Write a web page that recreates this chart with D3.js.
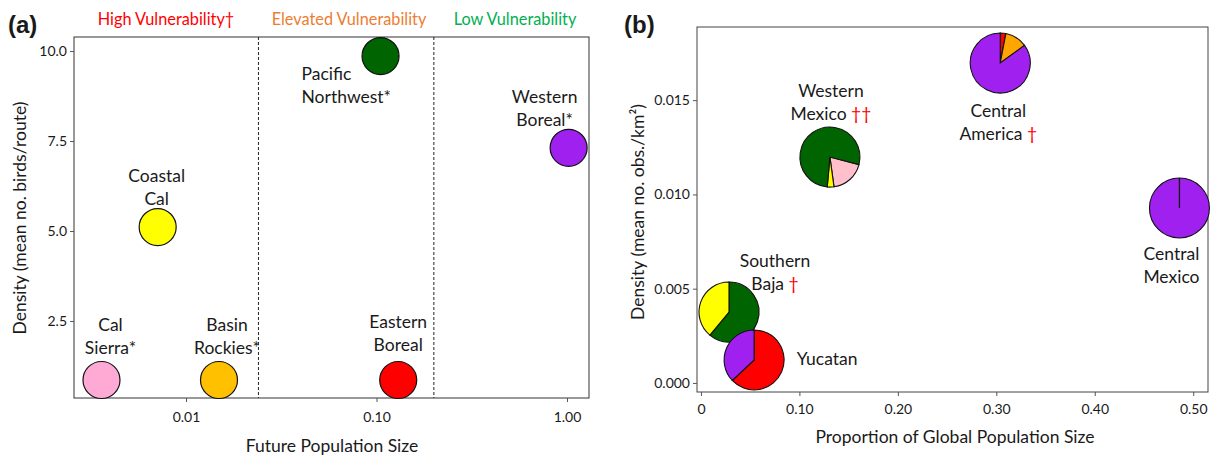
<!DOCTYPE html>
<html>
<head>
<meta charset="utf-8">
<script src="https://cdn.jsdelivr.net/npm/d3@7/dist/d3.min.js"></script>
<style>
  body { margin: 0; background: #fff; }
  text { font-family: Lato, "Open Sans", sans-serif; fill: #1a1a1a; }
</style>
</head>
<body>
<svg id="chart" width="1213" height="457"></svg>
<script>
// ---- panel (a) data ----
const regionsA = ["Cal Sierra*", "Coastal Cal", "Basin Rockies*", "Pacific Northwest*", "Eastern Boreal", "Western Boreal*"];
const futurePop = [0.0036, 0.0071, 0.0149, 0.105, 0.130, 1.02];
const densityA = [0.86, 5.11, 0.86, 9.86, 0.86, 7.31];
const colorsA = ["#ffaad4", "#ffff00", "#ffc000", "#006400", "#ff0000", "#a020f0"];
const xTicksA = [0.01, 0.1, 1];
const yTicksA = [2.5, 5.0, 7.5, 10.0];
const thresholds = [0.024, 0.2];
const zones = ["High Vulnerability\u2020", "Elevated Vulnerability", "Low Vulnerability"];

// ---- panel (b) data ----
const regionsB = ["Central America", "Western Mexico", "Southern Baja", "Yucatan", "Central Mexico"];
const daggers = ["\u2020", "\u2020\u2020", "\u2020", "", ""];
const propGlobal = [0.304, 0.131, 0.0285, 0.054, 0.486];
const densityB = [0.01697, 0.01198, 0.00376, 0.00122, 0.00928];
// slice shares, listed clockwise
const slices = [
  [{c: "red", v: 3}, {c: "orange", v: 12}, {c: "purple", v: 85}],
  [{c: "pink", v: 18.8}, {c: "yellow", v: 3.6}, {c: "green", v: 77.6}],
  [{c: "green", v: 61}, {c: "yellow", v: 39}],
  [{c: "red", v: 63}, {c: "purple", v: 37}],
  [{c: "purple", v: 100}]
];
const xTicksB = [0, 0.1, 0.2, 0.3, 0.4, 0.5];
const yTicksB = [0, 0.005, 0.010, 0.015];

const pieColor = {red: "#ff0000", orange: "#ffa500", purple: "#a020f0", pink: "#ffc0cb", yellow: "#ffff00", green: "#006400"};

const svg = d3.select("#chart");
const FS = 17.5, TS = 14;

// ================= PANEL A =================
const xa = d3.scaleLog().domain([Math.pow(10, -2.588), Math.pow(10, 0.1155)]).range([74, 589]);
const ya = d3.scaleLinear().domain([0.36, 10.39]).range([398, 37]);

const ga = svg.append("g");
ga.append("rect").attr("x", 74).attr("y", 37).attr("width", 515).attr("height", 361)
  .attr("fill", "none").attr("stroke", "#333").attr("stroke-width", 1);

ga.append("g").attr("transform", "translate(0,398)")
  .call(d3.axisBottom(xa).tickValues(xTicksA).tickFormat(d3.format(".2f")).tickSize(4).tickPadding(10))
  .call(g => g.select(".domain").remove())
  .call(g => g.selectAll("line").attr("stroke", "#555"))
  .call(g => g.selectAll("text").attr("font-size", TS).attr("fill", "#1a1a1a").style("font-family", "Lato, sans-serif"));

ga.append("g").attr("transform", "translate(74,0)")
  .call(d3.axisLeft(ya).tickValues(yTicksA).tickFormat(d3.format(".1f")).tickSize(4).tickPadding(3))
  .call(g => g.select(".domain").remove())
  .call(g => g.selectAll("line").attr("stroke", "#555"))
  .call(g => g.selectAll("text").attr("font-size", TS).attr("fill", "#1a1a1a").style("font-family", "Lato, sans-serif"));

ga.selectAll(".thr").data(thresholds).enter().append("line")
  .attr("x1", d => xa(d)).attr("x2", d => xa(d)).attr("y1", 37).attr("y2", 398)
  .attr("stroke", "#222").attr("stroke-width", 1).attr("stroke-dasharray", "3,2");

const zoneX = [166, 349, 515];
const zoneCol = ["#ff0000", "#ed7d31", "#00b050"];
ga.selectAll(".zone").data(zones).enter().append("text")
  .attr("x", (d, i) => zoneX[i]).attr("y", 25).attr("text-anchor", "middle")
  .attr("font-size", 16.3).style("fill", (d, i) => zoneCol[i]).text(d => d);

ga.selectAll("circle").data(regionsA).enter().append("circle")
  .attr("cx", (d, i) => xa(futurePop[i])).attr("cy", (d, i) => ya(densityA[i]))
  .attr("r", 18.5).attr("fill", (d, i) => colorsA[i]).attr("stroke", "#111").attr("stroke-width", 1.2);

// label placement relative to each circle
const labA = [
  {lines: ["Cal", "Sierra*"], dx: 9, dy: -49, a: "middle"},
  {lines: ["Coastal", "Cal"], dx: -1, dy: -45, a: "middle"},
  {lines: ["Basin", "Rockies*"], dx: 8, dy: -49, a: "middle"},
  {lines: ["Pacific", "Northwest*"], dx: -79, dy: 24, a: "start"},
  {lines: ["Eastern", "Boreal"], dx: 0, dy: -52, a: "middle"},
  {lines: ["Western", "Boreal*"], dx: -24, dy: -45, a: "middle"}
];
labA.forEach((l, i) => {
  const t = ga.append("text").attr("font-size", FS).attr("text-anchor", l.a);
  l.lines.forEach((s, j) => t.append("tspan")
    .attr("x", xa(futurePop[i]) + l.dx).attr("y", ya(densityA[i]) + l.dy + j * 23).text(s));
});

ga.append("text").attr("x", 332).attr("y", 452).attr("text-anchor", "middle").attr("font-size", FS)
  .text("Future Population Size");
ga.append("text").attr("transform", "translate(26,218) rotate(-90)").attr("text-anchor", "middle").attr("font-size", FS)
  .text("Density (mean no. birds/route)");
ga.append("text").attr("x", 8).attr("y", 33).attr("font-size", 24).attr("font-weight", "bold")
  .style("font-family", "Liberation Sans, Arial, sans-serif").text("(a)");

// ================= PANEL B =================
const xb = d3.scaleLinear().domain([-0.004, 0.515]).range([697, 1208]);
const yb = d3.scaleLinear().domain([-0.00048, 0.01888]).range([392, 27]);

const gb = svg.append("g");
gb.append("rect").attr("x", 697).attr("y", 27).attr("width", 511).attr("height", 365)
  .attr("fill", "none").attr("stroke", "#444").attr("stroke-width", 1);

gb.append("g").attr("transform", "translate(0,392)")
  .call(d3.axisBottom(xb).tickValues(xTicksB).tickFormat(d => d === 0 ? "0" : d3.format(".2f")(d)).tickSize(4).tickPadding(8))
  .call(g => g.select(".domain").remove())
  .call(g => g.selectAll("line").attr("stroke", "#555"))
  .call(g => g.selectAll("text").attr("font-size", TS).attr("fill", "#1a1a1a").style("font-family", "Lato, sans-serif"));

gb.append("g").attr("transform", "translate(697,0)")
  .call(d3.axisLeft(yb).tickValues(yTicksB).tickFormat(d3.format(".3f")).tickSize(4).tickPadding(3))
  .call(g => g.select(".domain").remove())
  .call(g => g.selectAll("line").attr("stroke", "#555"))
  .call(g => g.selectAll("text").attr("font-size", TS).attr("fill", "#1a1a1a").style("font-family", "Lato, sans-serif"));

const rot = [0, 104.5, 0, 0, 0];
const arc = d3.arc().innerRadius(0).outerRadius(30);
regionsB.forEach((name, i) => {
  const pie = d3.pie().sort(null).value(d => d.v)
    .startAngle(rot[i] * Math.PI / 180).endAngle(rot[i] * Math.PI / 180 + 2 * Math.PI);
  const g = gb.append("g").attr("transform", `translate(${xb(propGlobal[i])},${yb(densityB[i])})`);
  g.selectAll("path").data(pie(slices[i])).enter().append("path")
    .attr("d", arc).attr("fill", d => pieColor[d.data.c]).attr("stroke", "#111").attr("stroke-width", 1.1);
  if (slices[i].length === 1) {
    g.append("line").attr("x1", 0).attr("y1", 0).attr("x2", 0).attr("y2", -30).attr("stroke", "#111").attr("stroke-width", 1.3);
  }
});

const labB = [
  {lines: ["Central", "America"], dx: -2, dy: 54},
  {lines: ["Western", "Mexico"], dx: 1, dy: -60},
  {lines: ["Southern", "Baja"], dx: 46, dy: -45},
  {lines: ["Yucatan"], dx: 73, dy: 5},
  {lines: ["Central", "Mexico"], dx: -8, dy: 52}
];
labB.forEach((l, i) => {
  const cx = xb(propGlobal[i]) + l.dx, cy = yb(densityB[i]) + l.dy;
  const t = gb.append("text").attr("font-size", FS).attr("text-anchor", "middle");
  l.lines.forEach((s, j) => {
    const ts = t.append("tspan").attr("x", cx).attr("y", cy + j * 23).text(s);
    if (j === l.lines.length - 1 && daggers[i]) {
      ts.append("tspan").style("fill", "#ff0000").text(" " + daggers[i]);
    }
  });
});

gb.append("text").attr("x", 955).attr("y", 443).attr("text-anchor", "middle").attr("font-size", FS)
  .text("Proportion of Global Population Size");
gb.append("text").attr("transform", "translate(644,212) rotate(-90)").attr("text-anchor", "middle").attr("font-size", FS)
  .text("Density (mean no. obs./km\u00b2)");
gb.append("text").attr("x", 624).attr("y", 33).attr("font-size", 24).attr("font-weight", "bold")
  .style("font-family", "Liberation Sans, Arial, sans-serif").text("(b)");
</script>
</body>
</html>
